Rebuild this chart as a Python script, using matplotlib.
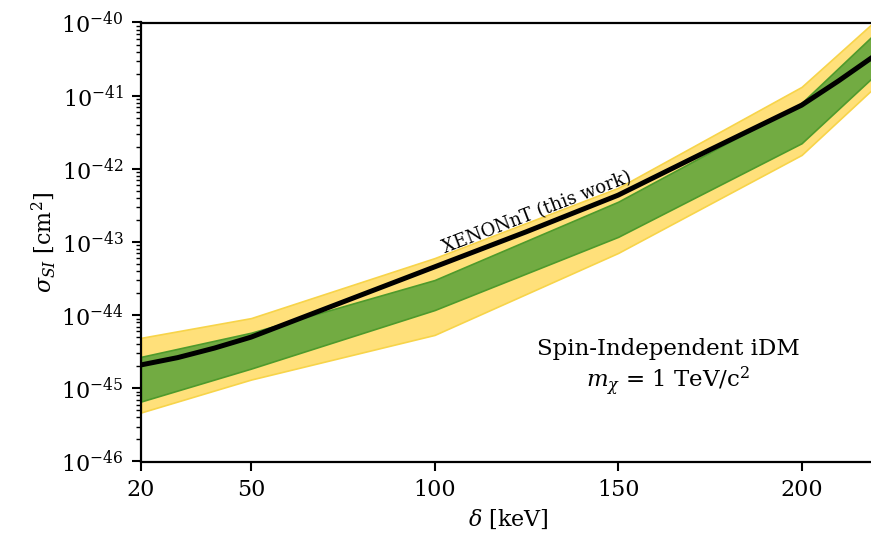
import numpy as np
import matplotlib
matplotlib.use("Agg")
import matplotlib.pyplot as plt
from matplotlib.ticker import LogLocator, NullFormatter, FixedLocator

plt.rcParams['font.family'] = 'serif'
plt.rcParams['font.serif'] = ['DejaVu Serif']
plt.rcParams['mathtext.fontset'] = 'dejavuserif'

# band x points (keV) and log10 cross-sections
delta_band = [20, 50, 100, 150, 200, 220]
yellow_hi = [-44.31, -44.04, -43.22, -42.26, -40.88, -39.98]
green_hi = [-44.57, -44.24, -43.52, -42.45, -41.10, -40.15]
green_lo = [-45.18, -44.73, -43.93, -42.93, -41.65, -40.72]
yellow_lo = [-45.33, -44.88, -44.27, -43.15, -41.81, -40.88]

delta_lim = [20, 30, 40, 50, 75, 100, 125, 150, 175, 200, 210, 220]
limit = [-44.68, -44.58, -44.45, -44.30, -43.82, -43.34, -42.86, -42.36, -41.74, -41.13, -40.80, -40.45]

xticks = [20, 50, 100, 150, 200]
ytick_exps = [-46, -45, -44, -43, -42, -41, -40]

fig = plt.figure(figsize=(8.71, 5.35), dpi=100)
ax = fig.add_axes([141/871, 1-461.5/535, 734/871, 439/535])

p = lambda v: 10**np.array(v, dtype=float)
ax.fill_between(delta_band, p(yellow_lo), p(yellow_hi), facecolor='#ffe07a',
                edgecolor='#f7d44a', lw=1.2, zorder=1)
ax.fill_between(delta_band, p(green_lo), p(green_hi), facecolor='#72ab42',
                edgecolor='#4e9a2c', lw=1.2, zorder=2)
ax.plot(delta_lim, p(limit), color='black', lw=3.6, zorder=3)

ax.set_yscale('log')
ax.set_xlim(20, 220)
ax.set_ylim(1e-46, 1e-40)
ax.yaxis.set_major_locator(FixedLocator(p(ytick_exps)))
ax.set_yticklabels([r'$10^{%d}$' % e for e in ytick_exps])
ax.yaxis.set_minor_locator(LogLocator(base=10, subs=np.arange(2, 10), numticks=20))
ax.yaxis.set_minor_formatter(NullFormatter())
ax.set_xticks(xticks)
ax.set_xticklabels([str(t) for t in xticks])
ax.tick_params(axis='both', which='major', labelsize=16, length=6.5, width=1.5, pad=6)
ax.tick_params(axis='y', which='minor', length=3.5, width=1.0)
for s in ax.spines.values():
    s.set_linewidth(1.6)

ax.set_xlabel(r'$\delta$ [keV]', fontsize=16, labelpad=5)
ax.set_ylabel(r'$\sigma_{SI}$ [cm$^2$]', fontsize=16, labelpad=2)

ax.text(537, 535 - 213, 'XENONnT (this work)', transform=None, fontsize=13,
        rotation=21, ha='center', va='center')

ax.text(668, 535 - 368, 'Spin-Independent iDM\n$m_\\chi$ = 1 TeV/c$^2$',
        transform=None, fontsize=16.5, ha='center', va='center',
        multialignment='center')

fig.savefig('out.png', dpi=100)
